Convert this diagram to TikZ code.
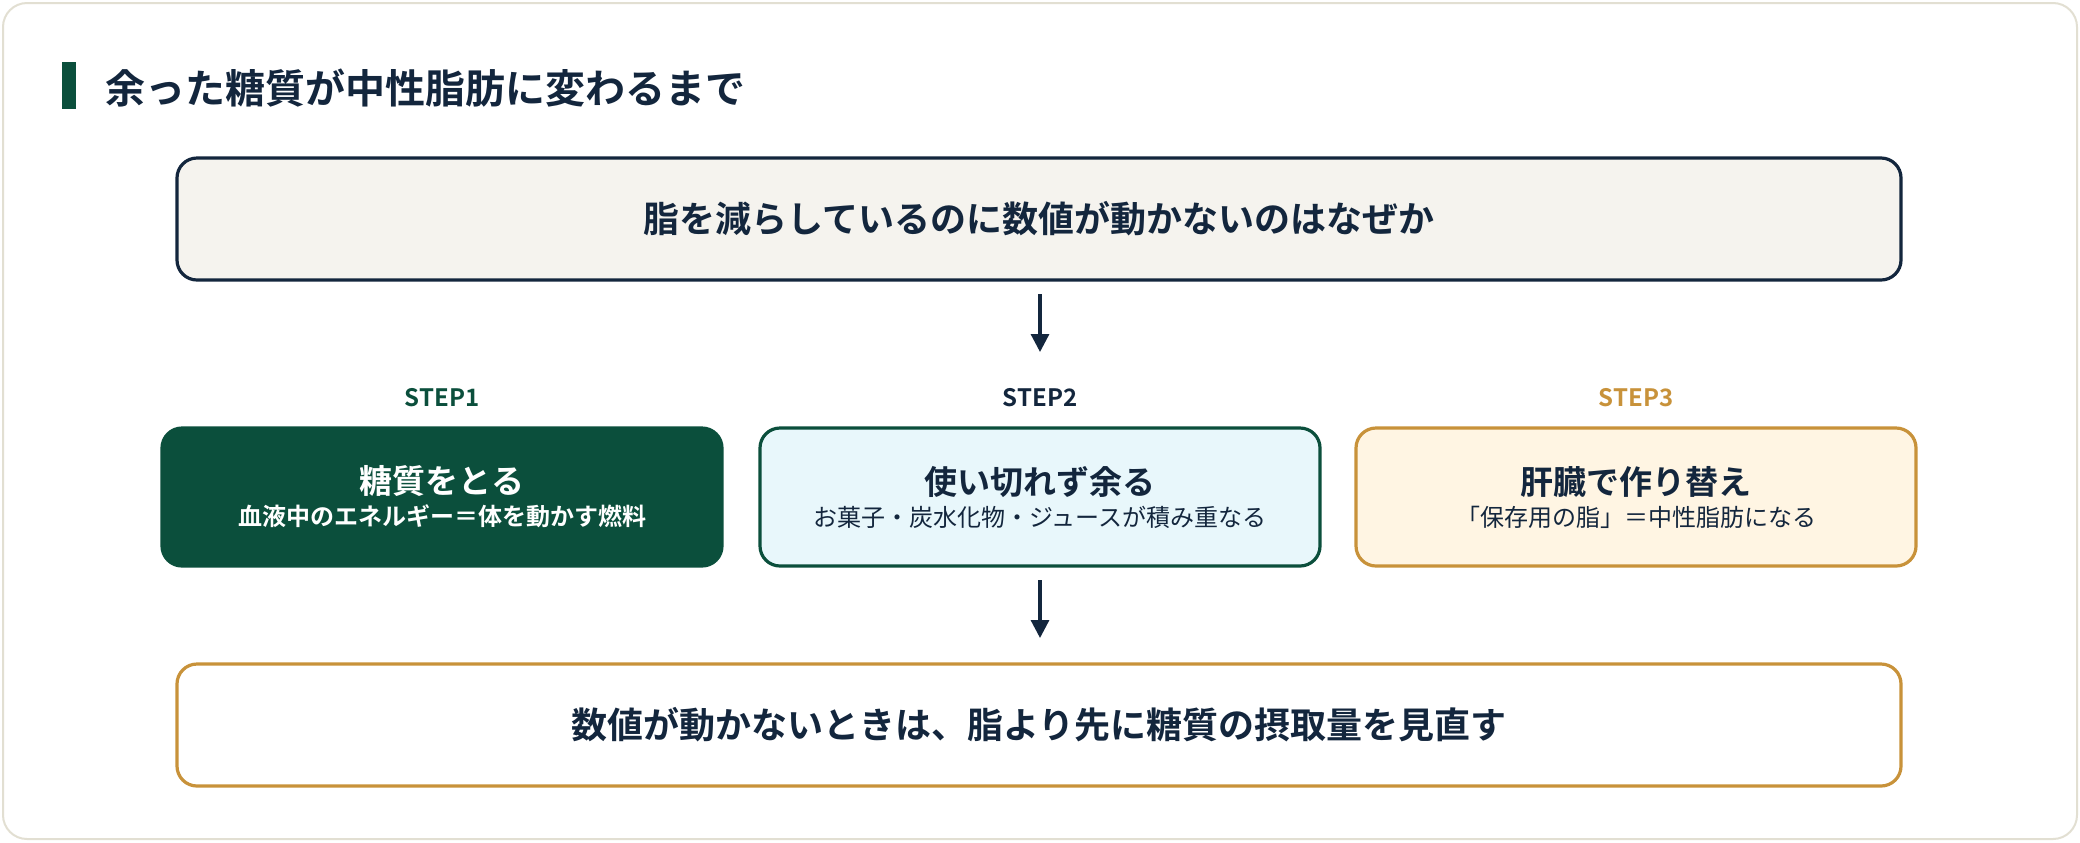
\documentclass[tikz,border=0pt]{standalone}
\usepackage{fontspec}
\setmainfont{Noto Sans CJK JP}
\newfontfamily\jpb{Noto Sans CJK JP Bold}
\usetikzlibrary{arrows.meta}
\definecolor{navy}{HTML}{13263D}
\definecolor{dgreen}{HTML}{0B4F3C}
\definecolor{gold}{HTML}{C8923A}
\definecolor{lblue}{HTML}{E8F7FB}
\definecolor{cream}{HTML}{FFF5E3}
\definecolor{paper}{HTML}{F5F3EE}
\definecolor{card}{HTML}{E2DFD2}
\tikzset{
  box/.style={rounded corners=10pt, line width=1.6pt, minimum height=61pt, text width=862pt, align=center, inner sep=0pt},
  stepbox/.style={rounded corners=10pt, line width=1.6pt, minimum height=69pt, text width=280pt, align=center, inner sep=0pt},
  steplbl/.style={font=\jpb\fontsize{12}{14}\selectfont},
  arr/.style={navy, line width=1.6pt, -{Triangle[length=9pt,width=9pt]}}
}
\begin{document}
\begin{tikzpicture}[x=0.5pt,y=-0.5pt]
\useasboundingbox (0,0) rectangle (2080,842);
\draw[card, line width=1pt, fill=white, rounded corners=12pt] (3,3) rectangle (2077,839);
\fill[dgreen] (62,62) rectangle (76,109);
\node[anchor=west, text=navy, font=\jpb\fontsize{20}{24}\selectfont] (title) at (98,88) {余った糖質が中性脂肪に変わるまで};
\node[box, draw=navy, fill=paper, text=navy, font=\jpb\fontsize{18}{22}\selectfont] (top) at (1039,219) {脂を減らしているのに数値が動かないのはなぜか};
\node[steplbl, text=dgreen] (l1) at (442,398) {STEP1};
\node[steplbl, text=navy] (l2) at (1040,398) {STEP2};
\node[steplbl, text=gold] (l3) at (1636,398) {STEP3};
\node[stepbox, draw=dgreen, fill=dgreen, text=white] (s1) at (442,497) {{\jpb\fontsize{16.5}{20}\selectfont 糖質をとる}\\[4pt]{\jpb\fontsize{12}{15}\selectfont 血液中のエネルギー＝体を動かす燃料}};
\node[stepbox, draw=dgreen, fill=lblue, text=navy] (s2) at (1040,497) {{\jpb\fontsize{16.5}{20}\selectfont 使い切れず余る}\\[4pt]{\fontsize{12}{15}\selectfont お菓子・炭水化物・ジュースが積み重なる}};
\node[stepbox, draw=gold, fill=cream, text=navy] (s3) at (1636,497) {{\jpb\fontsize{16.5}{20}\selectfont 肝臓で作り替え}\\[4pt]{\fontsize{12}{15}\selectfont 「保存用の脂」＝中性脂肪になる}};
\node[box, draw=gold, fill=white, text=navy, font=\jpb\fontsize{18}{22}\selectfont] (bot) at (1039,725) {数値が動かないときは、脂より先に糖質の摂取量を見直す};
\coordinate (a1s) at (1040,294);
\coordinate (a1e) at (1040,352);
\coordinate (a2s) at (1040,580);
\coordinate (a2e) at (1040,638);
\draw[arr] (a1s) -- (a1e);
\draw[arr] (a2s) -- (a2e);
\end{tikzpicture}
\end{document}
